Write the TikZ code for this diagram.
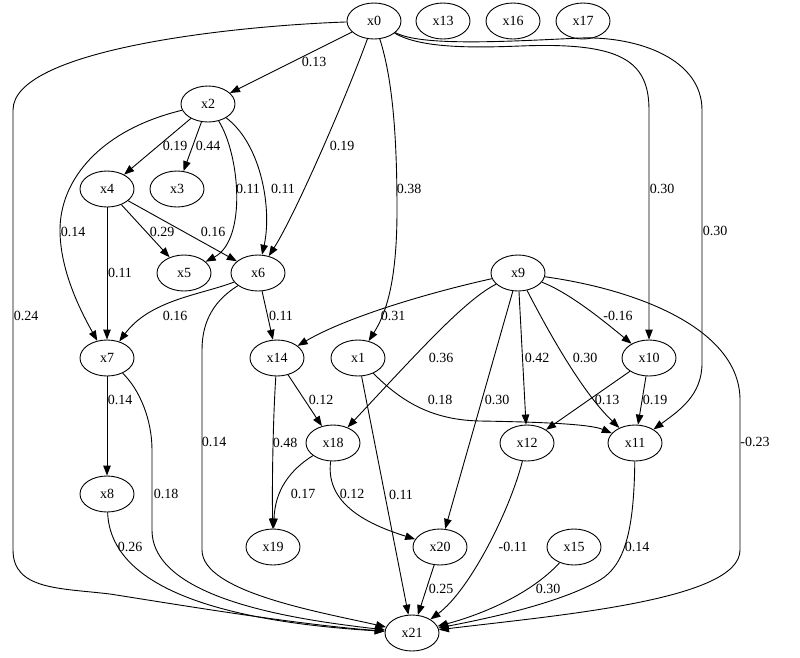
\documentclass[tikz,border=0pt]{standalone}
\usepackage{fontspec}
\setmainfont{Liberation Serif}
\usetikzlibrary{shapes.geometric,arrows.meta}
\begin{document}
\begin{tikzpicture}[x=1pt,y=-1pt,
  vnode/.style={ellipse,draw,line width=0.9pt,minimum width=54pt,minimum height=36pt,inner sep=0pt,font=\fontsize{14}{16}\selectfont},
  edge/.style={draw,line width=0.9pt,-{Triangle[length=10pt,width=7.5pt]}},
  lab/.style={font=\fontsize{14}{16}\selectfont,inner sep=0pt}]
\useasboundingbox (0,0) rectangle (800,657);
% nodes
\node[vnode] (x0) at (374,21) {x0};
\node[vnode] (x13) at (443,21) {x13};
\node[vnode] (x16) at (513,21) {x16};
\node[vnode] (x17) at (583,21) {x17};
\node[vnode] (x2) at (208,104) {x2};
\node[vnode] (x4) at (107,189) {x4};
\node[vnode] (x3) at (177,189) {x3};
\node[vnode] (x5) at (184,273) {x5};
\node[vnode] (x6) at (258,273) {x6};
\node[vnode] (x9) at (518,273) {x9};
\node[vnode] (x7) at (107,358) {x7};
\node[vnode] (x14) at (277,358) {x14};
\node[vnode] (x1) at (358,358) {x1};
\node[vnode] (x10) at (649,358) {x10};
\node[vnode] (x18) at (333,443) {x18};
\node[vnode] (x12) at (527,443) {x12};
\node[vnode] (x11) at (635,443) {x11};
\node[vnode] (x8) at (107,494) {x8};
\node[vnode] (x19) at (273,547) {x19};
\node[vnode] (x20) at (440,547) {x20};
\node[vnode] (x15) at (574,547) {x15};
\node[vnode] (x21) at (412,633) {x21};
% edges
\draw[edge] (x0) -- (x2);
\draw[edge] (x0) .. controls (345,100) and (295,215) .. (x6);
\draw[edge] (x0) .. controls (393,80) and (397,140) .. (397,210) .. controls (397,285) and (385,315) .. (x1);
\draw[edge] (x0) .. controls (420,48) and (470,48) .. (520,46) .. controls (620,42) and (649,60) .. (649,110) -- (x10);
\draw[edge] (x0) .. controls (420,46) and (500,42) .. (580,38) .. controls (640,36) and (702,60) .. (702,110) -- (702,363) .. controls (702,395) and (680,410) .. (x11);
\draw[edge] (x0) .. controls (230,26) and (13,50) .. (13,110) -- (13,550) .. controls (13,590) and (60,588) .. (110,594) .. controls (180,605) and (300,625) .. (x21);
\draw[edge] (x2) -- (x4);
\draw[edge] (x2) -- (x3);
\draw[edge] (x2) .. controls (240,155) and (247,240) .. (x5);
\draw[edge] (x2) .. controls (262,145) and (272,210) .. (x6);
\draw[edge] (x2) .. controls (100,130) and (60,180) .. (60,230) .. controls (60,270) and (80,310) .. (x7);
\draw[edge] (x4) -- (x5);
\draw[edge] (x4) -- (x6);
\draw[edge] (x4) -- (x7);
\draw[edge] (x6) .. controls (200,295) and (150,300) .. (x7);
\draw[edge] (x6) -- (x14);
\draw[edge] (x6) .. controls (215,300) and (202,320) .. (202,350) -- (202,550) .. controls (202,592) and (320,612) .. (x21);
\draw[edge] (x9) .. controls (440,290) and (350,315) .. (x14);
\draw[edge] (x9) .. controls (465,300) and (420,350) .. (x18);
\draw[edge] (x9) -- (x20);
\draw[edge] (x9) -- (x12);
\draw[edge] (x9) .. controls (545,325) and (580,390) .. (x11);
\draw[edge] (x9) .. controls (570,293) and (605,322) .. (x10);
\draw[edge] (x9) .. controls (640,290) and (740,330) .. (740,400) -- (740,550) .. controls (740,600) and (560,615) .. (x21);
\draw[edge] (x7) -- (x8);
\draw[edge] (x7) .. controls (140,390) and (152,420) .. (152,450) -- (152,530) .. controls (152,600) and (300,620) .. (x21);
\draw[edge] (x14) -- (x18);
\draw[edge] (x14) .. controls (273,420) and (272,480) .. (x19);
\draw[edge] (x1) .. controls (400,400) and (430,420) .. (480,421) .. controls (540,422) and (590,424) .. (x11);
\draw[edge] (x1) -- (x21);
\draw[edge] (x10) -- (x12);
\draw[edge] (x10) -- (x11);
\draw[edge] (x18) .. controls (290,470) and (275,490) .. (x19);
\draw[edge] (x18) .. controls (325,505) and (370,525) .. (x20);
\draw[edge] (x12) .. controls (510,510) and (470,590) .. (x21);
\draw[edge] (x11) .. controls (634,530) and (625,565) .. (600,580) .. controls (560,603) and (490,618) .. (x21);
\draw[edge] (x8) .. controls (110,580) and (200,620) .. (x21);
\draw[edge] (x20) -- (x21);
\draw[edge] (x15) .. controls (530,595) and (480,615) .. (x21);
% labels
\node[lab] (l1) at (314,62) {0.13};
\node[lab] (l2) at (342,146) {0.19};
\node[lab] (l3) at (409,189) {0.38};
\node[lab] (l4) at (662,189) {0.30};
\node[lab] (l5) at (715,231) {0.30};
\node[lab] (l6) at (26,316) {0.24};
\node[lab] (l7) at (175,146) {0.19};
\node[lab] (l8) at (208,146) {0.44};
\node[lab] (l9) at (248,189) {0.11};
\node[lab] (l10) at (283,189) {0.11};
\node[lab] (l11) at (73,232) {0.14};
\node[lab] (l12) at (162,232) {0.29};
\node[lab] (l13) at (213,232) {0.16};
\node[lab] (l14) at (120,273) {0.11};
\node[lab] (l15) at (175,316) {0.16};
\node[lab] (l16) at (281,316) {0.11};
\node[lab] (l17) at (393,316) {0.31};
\node[lab] (l18) at (618,316) {-0.16};
\node[lab] (l19) at (441,358) {0.36};
\node[lab] (l20) at (537,358) {0.42};
\node[lab] (l21) at (585,358) {0.30};
\node[lab] (l22) at (440,400) {0.18};
\node[lab] (l23) at (497,400) {0.30};
\node[lab] (l24) at (607,400) {0.13};
\node[lab] (l25) at (655,400) {0.19};
\node[lab] (l26) at (755,442) {-0.23};
\node[lab] (l27) at (120,400) {0.14};
\node[lab] (l28) at (321,400) {0.12};
\node[lab] (l29) at (285,443) {0.48};
\node[lab] (l30) at (214,442) {0.14};
\node[lab] (l31) at (166,494) {0.18};
\node[lab] (l32) at (303,494) {0.17};
\node[lab] (l33) at (352,494) {0.12};
\node[lab] (l34) at (401,495) {0.11};
\node[lab] (l35) at (130,547) {0.26};
\node[lab] (l36) at (513,547) {-0.11};
\node[lab] (l37) at (637,547) {0.14};
\node[lab] (l38) at (441,589) {0.25};
\node[lab] (l39) at (548,589) {0.30};
\end{tikzpicture}
\end{document}
